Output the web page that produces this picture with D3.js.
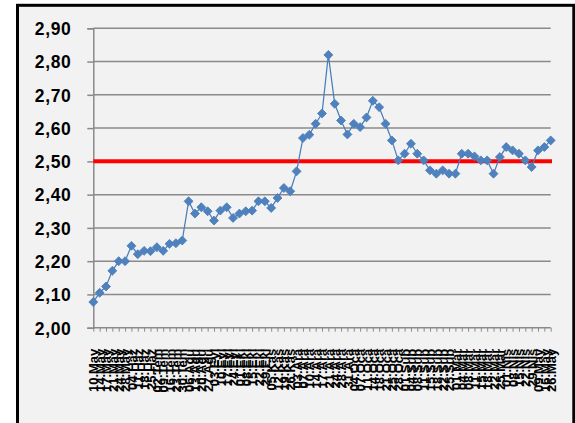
<html>
  <head>
    <style>
      body {
        margin: 0;
        background: #ffffff;
      }

      .ylab {
        font: bold 17.5px "Liberation Sans", Arial, sans-serif;
        letter-spacing: 0.6px;
        fill: #000000;
      }

      .xlab {
        font: bold 13px "Liberation Sans", Arial, sans-serif;
        fill: #000000;
      }
    </style>
  </head>

  <body>
    <div id="chart"></div>

    <script src="https://d3js.org/d3.v7.min.js"></script>
    <script>
      // category labels (dates, Turkish month names)
      var dates = [
        "10.May", "14.May", "17.May", "21.May", "24.May", "28.May", "04.Haz",
        "11.Haz", "18.Haz", "25.Haz", "02.Tem", "09.Tem", "16.Tem", "23.Tem",
        "30.Tem", "06.Ağu", "13.Ağu", "20.Ağu", "27.Ağu", "03.Eyl", "10.Eyl",
        "17.Eyl", "24.Eyl", "01.Eki", "08.Eki", "15.Eki", "22.Eki", "29.Eki",
        "05.Kas", "12.Kas", "19.Kas", "26.Kas", "03.Ara", "07.Ara", "10.Ara",
        "14.Ara", "17.Ara", "21.Ara", "24.Ara", "28.Ara", "31.Ara", "04.Oca",
        "07.Oca", "11.Oca", "14.Oca", "18.Oca", "21.Oca", "25.Oca", "28.Oca",
        "01.Şub", "04.Şub", "08.Şub", "11.Şub", "15.Şub", "18.Şub", "22.Şub",
        "25.Şub", "01.Mar", "04.Mar", "08.Mar", "11.Mar", "15.Mar", "18.Mar",
        "22.Mar", "25.Mar", "01.Nis", "08.Nis", "15.Nis", "22.Nis", "29.Nis",
        "09.May", "16.May", "26.May"
      ];

      // series values
      var values = [
        2.077, 2.105, 2.124, 2.171, 2.20, 2.20, 2.246, 2.221, 2.231, 2.23,
        2.242, 2.231, 2.252, 2.254, 2.262, 2.38, 2.343, 2.362, 2.35, 2.322,
        2.352, 2.362, 2.33, 2.343, 2.35, 2.352, 2.38, 2.38, 2.36, 2.39,
        2.42, 2.41, 2.47, 2.57, 2.58, 2.613, 2.644, 2.82, 2.673, 2.623,
        2.581, 2.613, 2.603, 2.632, 2.682, 2.663, 2.613, 2.563, 2.503, 2.523,
        2.553, 2.523, 2.503, 2.473, 2.463, 2.473, 2.463, 2.463, 2.523, 2.523,
        2.515, 2.503, 2.503, 2.463, 2.513, 2.543, 2.533, 2.523, 2.503, 2.483,
        2.533, 2.543, 2.563
      ];

      var yTicks = [2.0, 2.1, 2.2, 2.3, 2.4, 2.5, 2.6, 2.7, 2.8, 2.9];
      var target = 2.5;

      var width = 575,
        height = 423;

      var svg = d3
        .select("#chart")
        .append("svg")
        .attr("width", width)
        .attr("height", height);

      // chart frame
      svg
        .append("rect")
        .attr("x", 17.5)
        .attr("y", 5.3)
        .attr("width", 556.3)
        .attr("height", 430)
        .attr("fill", "#f2f2f2")
        .attr("stroke", "#000000")
        .attr("stroke-width", 3);

      var x = d3.scalePoint().domain(dates).range([93.3, 550.7]);
      var y = d3.scaleLinear().domain([2.0, 2.9]).range([327.7, 28.3]);

      var comma = d3.formatLocale({
        decimal: ",",
        thousands: ".",
        grouping: [3],
        currency: ["", ""]
      }).format(".2f");

      // gridlines
      svg
        .append("g")
        .selectAll("line")
        .data(yTicks.slice(1))
        .enter()
        .append("line")
        .attr("x1", 93.3)
        .attr("x2", 550.7)
        .attr("y1", function (d) {
          return y(d);
        })
        .attr("y2", function (d) {
          return y(d);
        })
        .attr("stroke", "#8a8a8a")
        .attr("stroke-width", 1.5);

      // y axis
      var yAxis = svg
        .append("g")
        .attr("transform", "translate(93.3,0)")
        .call(
          d3.axisLeft(y).tickValues(yTicks).tickSize(6).tickPadding(16).tickFormat(comma)
        );
      yAxis.select(".domain").attr("stroke", "#8a8a8a").attr("stroke-width", 1.5);
      yAxis.selectAll(".tick line").attr("stroke", "#8a8a8a").attr("stroke-width", 1.5);
      yAxis.selectAll(".tick text").attr("class", "ylab").attr("dy", "0.36em");

      // x axis
      var xAxis = svg
        .append("g")
        .attr("transform", "translate(0," + y(2.0) + ")")
        .call(d3.axisBottom(x).tickSize(4).tickSizeOuter(0));
      xAxis
        .select(".domain")
        .attr("d", "M93.3,0H550.7")
        .attr("stroke", "#8a8a8a")
        .attr("stroke-width", 1.5);
      xAxis.selectAll(".tick line").attr("stroke", "#8a8a8a").attr("stroke-width", 1);
      xAxis
        .selectAll(".tick text")
        .attr("class", "xlab")
        .attr("text-anchor", "end")
        .attr("transform", "rotate(-90)")
        .attr("x", -21)
        .attr("y", 0)
        .attr("dy", "0.36em");

      // target line
      svg
        .append("line")
        .attr("x1", 93.3)
        .attr("x2", 552)
        .attr("y1", y(target))
        .attr("y2", y(target))
        .attr("stroke", "#ff0000")
        .attr("stroke-width", 4);

      // series line
      var line = d3
        .line()
        .x(function (d, i) {
          return x(dates[i]);
        })
        .y(function (d) {
          return y(d);
        });

      svg
        .append("path")
        .datum(values)
        .attr("d", line)
        .attr("fill", "none")
        .attr("stroke", "#4a7ebb")
        .attr("stroke-width", 1.25);

      // diamond markers
      var diamond = d3.symbol().type(d3.symbolSquare).size(40);

      svg
        .append("g")
        .selectAll("path")
        .data(values)
        .enter()
        .append("path")
        .attr("d", diamond)
        .attr("transform", function (d, i) {
          return "translate(" + x(dates[i]) + "," + y(d) + ") rotate(45)";
        })
        .attr("fill", "#4f81bd")
        .attr("stroke", "#4a7ebb")
        .attr("stroke-width", 0.8);
    </script>
  </body>
</html>
